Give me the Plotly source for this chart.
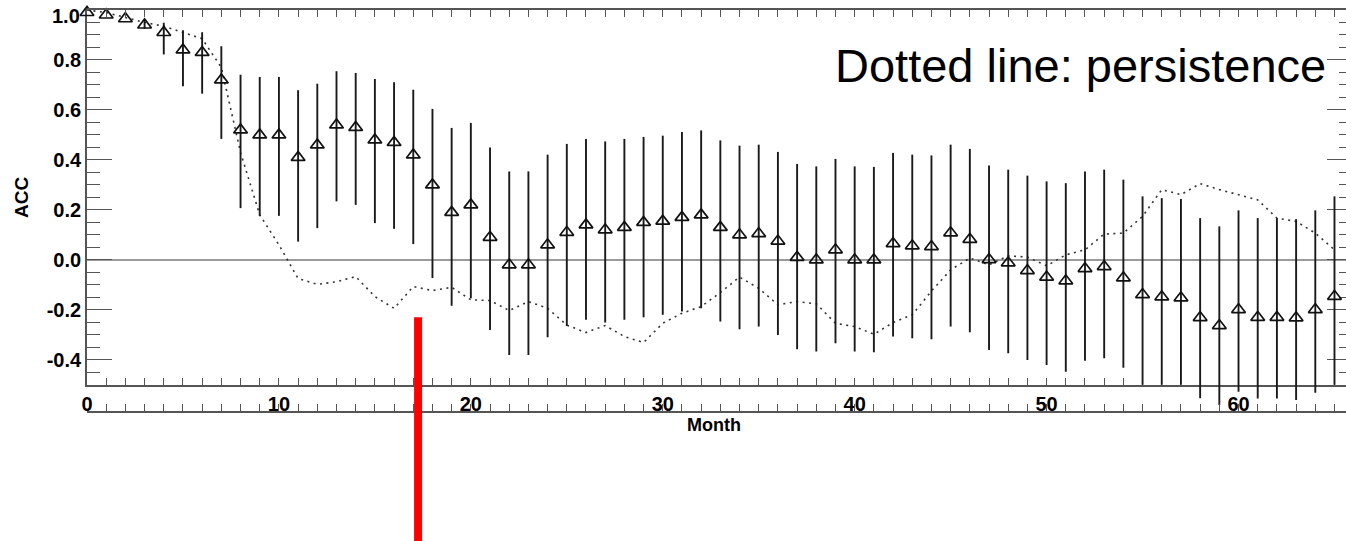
import plotly.graph_objects as go

# Lead time in months
months = list(range(66))

# Anomaly correlation coefficient (triangles) with its spread (vertical bars)
acc = [0.99, 0.98, 0.965, 0.94, 0.91, 0.84, 0.83, 0.72, 0.52, 0.50,
       0.50, 0.41, 0.46, 0.54, 0.53, 0.48, 0.47, 0.42, 0.30, 0.19,
       0.22, 0.09, -0.02, -0.02, 0.06, 0.11, 0.14, 0.12, 0.13, 0.15,
       0.155, 0.17, 0.18, 0.13, 0.10, 0.105, 0.075, 0.01, 0.0, 0.04,
       0.0, 0.0, 0.065, 0.056, 0.053, 0.108, 0.082, 0.001, -0.012, -0.043,
       -0.069, -0.084, -0.035, -0.027, -0.072, -0.139, -0.148, -0.152, -0.231, -0.263,
       -0.199, -0.230, -0.230, -0.232, -0.199, -0.146]
acc_upper = [0.99, 0.98, 0.965, 0.96, 0.949, 0.919, 0.911, 0.855, 0.741, 0.732,
             0.732, 0.679, 0.705, 0.755, 0.748, 0.724, 0.711, 0.681, 0.604, 0.528,
             0.548, 0.450, 0.354, 0.354, 0.421, 0.464, 0.484, 0.474, 0.484, 0.492,
             0.497, 0.512, 0.518, 0.478, 0.457, 0.461, 0.432, 0.384, 0.374, 0.404,
             0.374, 0.372, 0.428, 0.421, 0.418, 0.461, 0.444, 0.378, 0.361, 0.337,
             0.314, 0.307, 0.354, 0.361, 0.321, 0.254, 0.247, 0.243, 0.167, 0.134,
             0.198, 0.167, 0.167, 0.163, 0.198, 0.254]
acc_lower = [0.99, 0.98, 0.965, 0.925, 0.822, 0.695, 0.665, 0.484, 0.207, 0.176,
             0.176, 0.073, 0.127, 0.234, 0.220, 0.147, 0.124, 0.063, -0.073, -0.184,
             -0.154, -0.281, -0.381, -0.381, -0.310, -0.265, -0.240, -0.251, -0.240, -0.230,
             -0.220, -0.207, -0.194, -0.247, -0.278, -0.267, -0.301, -0.358, -0.367, -0.334,
             -0.367, -0.370, -0.307, -0.314, -0.318, -0.267, -0.290, -0.361, -0.374, -0.401,
             -0.421, -0.448, -0.404, -0.394, -0.432, -0.50, -0.50, -0.50, -0.554, -0.581,
             -0.528, -0.555, -0.555, -0.561, -0.532, -0.50]

# Persistence forecast skill (dotted line)
persistence = [1.0, 0.99, 0.97, 0.95, 0.935, 0.91, 0.885, 0.77, 0.43, 0.18,
               0.06, -0.075, -0.098, -0.088, -0.067, -0.147, -0.194, -0.107, -0.123, -0.110,
               -0.160, -0.163, -0.203, -0.167, -0.194, -0.261, -0.291, -0.263, -0.307, -0.331,
               -0.254, -0.214, -0.187, -0.131, -0.069, -0.114, -0.180, -0.167, -0.176, -0.254,
               -0.267, -0.298, -0.251, -0.220, -0.125, -0.040, 0.007, -0.020, 0.016, 0.011,
               -0.024, 0.020, 0.040, 0.103, 0.107, 0.174, 0.281, 0.261, 0.305, 0.281,
               0.261, 0.240, 0.167, 0.154, 0.107, 0.040]

x_tick_vals = [0, 10, 20, 30, 40, 50, 60]
x_tick_text = ["0", "10", "20", "30", "40", "50", "60"]
y_tick_vals = [-0.4, -0.2, 0.0, 0.2, 0.4, 0.6, 0.8, 1.0]
y_tick_text = ["-0.4", "-0.2", "0.0", "0.2", "0.4", "0.6", "0.8", "1.0"]

# Highlighted lead month (red marker bar) and its upper end
marker_month = 17.25
marker_top = -0.23

x_range = [0, 65.6]
y_range = [-0.5, 1.0]

FONT = "Liberation Sans"
AXIS_COLOR = "#555555"
TICK_FONT = dict(family=FONT, size=20, color="#000000", weight="bold")

# Layout geometry (pixels). The framed axes end at AXIS_BOTTOM, while the
# ACC bars live on a taller twin subplot so their tails may hang below it.
W, H = 1346, 541
M_LEFT, M_TOP, M_BOTTOM = 87, 10, 130
AXIS_BOTTOM = 384.75
plot_px = H - M_TOP - M_BOTTOM
frame_px = AXIS_BOTTOM - M_TOP
px_per_unit = frame_px / (y_range[1] - y_range[0])
frame_dom0 = (H - M_BOTTOM - AXIS_BOTTOM) / plot_px
y2_range = [y_range[1] - plot_px / px_per_unit, y_range[1]]


def paper_y(px):
    return (H - M_BOTTOM - px) / plot_px


# the top label sits just under its tick, so it is placed separately
main_labels = y_tick_text[:-1] + [""]

fig = go.Figure()

# persistence lives on the right-hand twin axis (same range as the left one)
fig.add_trace(go.Scatter(
    x=months, y=persistence, mode="lines", yaxis="y3",
    line=dict(color="#333333", width=1.6, dash="2px,4.5px"),
    showlegend=False, hoverinfo="skip",
))

fig.add_trace(go.Scatter(
    x=months, y=acc, mode="markers", yaxis="y2",
    marker=dict(symbol="triangle-up-open", size=12, color="#111111",
                line=dict(width=1.7, color="#111111")),
    error_y=dict(type="data", symmetric=False,
                 array=[u - v for u, v in zip(acc_upper, acc)],
                 arrayminus=[v - l for v, l in zip(acc, acc_lower)],
                 width=0, thickness=1.9, color="#1a1a1a"),
    cliponaxis=False, showlegend=False,
))

# red marker bar running from the plot down past the axis labels
paper_top = frame_dom0 + (marker_top - y_range[0]) / (y_range[1] - y_range[0]) * (1 - frame_dom0)
fig.add_shape(type="line", xref="x", yref="paper",
              x0=marker_month, x1=marker_month, y0=paper_y(H + 5), y1=paper_top,
              line=dict(color="#ff0000", width=8), layer="above")

fig.add_annotation(
    text=y_tick_text[-1], xref="paper", yref="y", x=0, y=y_tick_vals[-1],
    xanchor="right", yanchor="middle", xshift=-5, yshift=-6, showarrow=False,
    font=TICK_FONT,
)
fig.add_annotation(
    text="Dotted line: persistence", xref="paper", yref="paper",
    x=0.986, y=paper_y(65.5), xanchor="right", yanchor="middle", showarrow=False,
    font=dict(family=FONT, size=47, color="#000000"),
)
fig.add_annotation(
    text="<b>Month</b>", xref="paper", yref="paper",
    x=0.498, y=paper_y(424.5), xanchor="center", yanchor="middle", showarrow=False,
    font=dict(family=FONT, size=18, color="#000000"),
)

fig.update_layout(
    width=W, height=H,
    margin=dict(l=M_LEFT, r=0, t=M_TOP, b=M_BOTTOM),
    paper_bgcolor="white", plot_bgcolor="rgba(0,0,0,0)",
    font=dict(family=FONT, color="#000000"),
    xaxis=dict(
        range=x_range, anchor="y", showgrid=False, zeroline=False,
        showline=True, linecolor=AXIS_COLOR, linewidth=1.8, mirror="allticks",
        ticks="inside", ticklen=7, tickwidth=1.3, tickcolor=AXIS_COLOR,
        tickmode="array", tickvals=x_tick_vals, ticktext=x_tick_text,
        tickfont=TICK_FONT,
        minor=dict(ticks="inside", ticklen=3.5, tickwidth=1.2, tickcolor=AXIS_COLOR,
                   tickmode="linear", tick0=0, dtick=1, showgrid=False),
    ),
    yaxis=dict(
        range=y_range, domain=[frame_dom0, 1], showgrid=False,
        zeroline=True, zerolinecolor="#9a9a9a", zerolinewidth=1.7,
        showline=True, linecolor=AXIS_COLOR, linewidth=1.8, mirror=False,
        ticks="inside", ticklen=25, tickwidth=1.3, tickcolor=AXIS_COLOR,
        tickmode="array", tickvals=y_tick_vals, ticktext=main_labels,
        tickfont=TICK_FONT,
        minor=dict(ticks="inside", ticklen=13, tickwidth=1.2, tickcolor=AXIS_COLOR,
                   tickmode="linear", tick0=0, dtick=0.05, showgrid=False),
        title=dict(text="<b>ACC</b>", font=dict(family=FONT, size=19), standoff=13),
    ),
    yaxis2=dict(range=y2_range, domain=[0, 1], anchor="x", visible=False),
    yaxis3=dict(
        range=y_range, overlaying="y", side="right", anchor="x",
        showgrid=False, zeroline=False, showline=False, showticklabels=False,
        ticks="inside", ticklen=19, tickwidth=1.3, tickcolor=AXIS_COLOR,
        tickmode="array", tickvals=y_tick_vals,
        minor=dict(ticks="inside", ticklen=7, tickwidth=1.2, tickcolor=AXIS_COLOR,
                   tickmode="linear", tick0=0, dtick=0.05, showgrid=False),
    ),
)

fig.write_html("out.html")
